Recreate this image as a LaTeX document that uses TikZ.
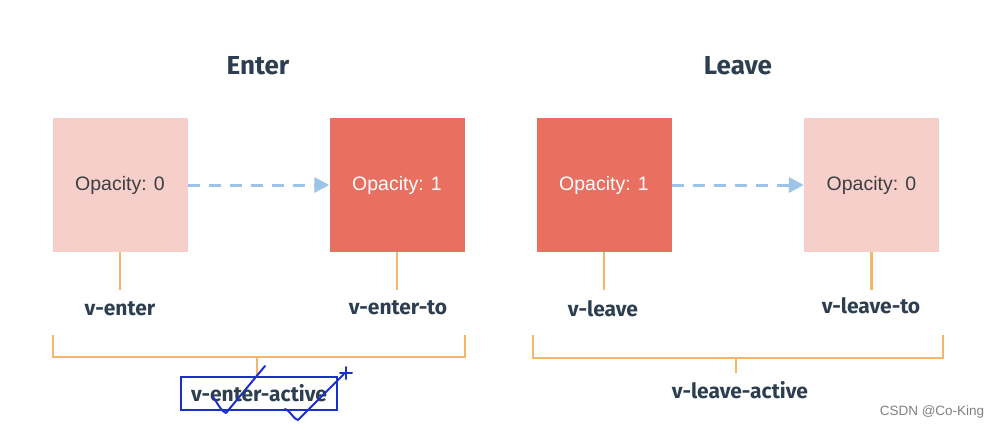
\documentclass[tikz,border=0pt]{standalone}
\usepackage{fontspec}
\setmainfont{Liberation Sans}
\newfontfamily\tagfont{Fira Sans}
\usetikzlibrary{arrows.meta}

\definecolor{paleRed}{HTML}{F6CFCA}
\definecolor{deepRed}{HTML}{E96F61}
\definecolor{inkGray}{HTML}{3B3F45}
\definecolor{slate}{HTML}{2C3E50}
\definecolor{gold}{HTML}{F3B66A}
\definecolor{skyBlue}{HTML}{9DC3E6}
\definecolor{penBlue}{HTML}{1C2FC8}

\begin{document}
\begin{tikzpicture}[x=1pt,y=-1pt,
  box/.style={minimum width=135pt,minimum height=134pt,inner sep=0pt,
    font=\fontsize{19.5}{22}\selectfont},
  flow/.style={skyBlue,line width=3pt,dash pattern=on 12pt off 9pt,
    -{Triangle[length=15pt,width=15pt]}},
  stub/.style={gold,line width=2.6pt},
  tag/.style={text=slate,font=\tagfont\bfseries\fontsize{21}{23}\selectfont},
  title/.style={text=slate,font=\tagfont\bfseries\fontsize{26}{29}\selectfont},
  pen/.style={penBlue,line width=2pt,line cap=round,line join=round}]
  \useasboundingbox (0,0) rectangle (997,429);

  \node[title] (entertitle) at (258,66) {Enter};
  \node[title] (leavetitle) at (738,66) {Leave};

  % enter side
  \node[box,fill=paleRed,text=inkGray] (enter0) at (120,185) {Opacity: 0};
  \node[box,fill=deepRed,text=white] (enter1) at (397,185) {Opacity: 1};
  \draw[flow] (enter0) -- (enter1);
  \draw[stub] (enter0.south) -- ++(0,38);
  \draw[stub] (enter1.south) -- ++(0,38);
  \node[tag] (venter) at (120,309) {v-enter};
  \node[tag] (venterto) at (398,308) {v-enter-to};

  % leave side
  \node[box,fill=deepRed,text=white] (leave1) at (604,185) {Opacity: 1};
  \node[box,fill=paleRed,text=inkGray] (leave0) at (871.5,185) {Opacity: 0};
  \draw[flow] (leave1) -- (leave0);
  \draw[stub] (leave1.south) -- ++(0,38);
  \draw[stub] (leave0.south) -- ++(0,38);
  \node[tag] (vleave) at (603,309) {v-leave};
  \node[tag] (vleaveto) at (871,306) {v-leave-to};

  % brackets
  \coordinate (enterbrace) at (257,357);
  \coordinate (leavebrace) at (736,358);
  \draw[stub] (53,335) |- (465,357) -- (465,335);
  \draw[stub] (533,335) |- (943,358) -- (943,335);
  \node[tag,draw=penBlue,line width=2pt,minimum width=156pt,minimum height=33pt,
    inner sep=0pt] (enteractive) at (259,393.5) {v-enter-active};
  \node[tag] (leaveactive) at (740,390) {v-leave-active};
  \draw[stub] (enterbrace) -- (enterbrace |- enteractive.north);
  \draw[stub] (leavebrace) -- ++(0,15);

  % hand marks
  \draw[pen] (213,397) .. controls (218,404) and (222,412) .. (226,413)
    -- (265,366);
  \draw[pen] (285,409) .. controls (290,410) and (294,420) .. (298,420)
    -- (344,374);
  \draw[pen] (340,373) -- (352,373) (346,367) -- (346,379);

  \node[text=gray,font=\fontsize{13.5}{15}\selectfont] (mark) at (932,412) {CSDN @Co-King};
\end{tikzpicture}
\end{document}
